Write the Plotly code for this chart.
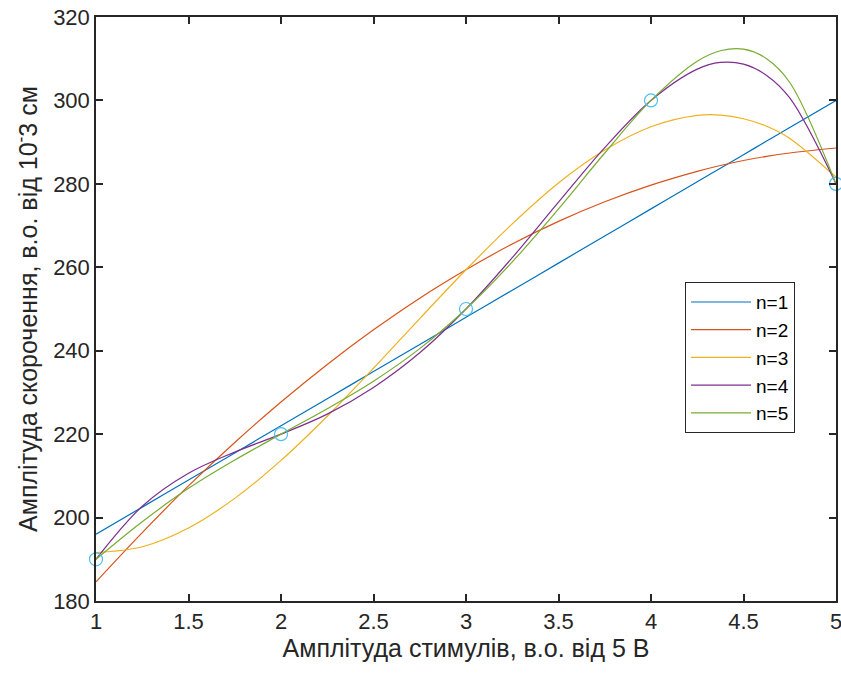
import plotly.graph_objects as go

# Measured data points
x_pts = [1, 2, 3, 4, 5]
y_pts = [190, 220, 250, 300, 280]

# Fitted curves, values on a common x grid
x_grid = [1, 1.25, 1.5, 1.75, 2, 2.25, 2.5, 2.75, 3, 3.25, 3.5, 3.75, 4, 4.25, 4.375, 4.5, 4.625, 4.75, 5]
n1 = [196, 202.5, 209, 215.5, 222, 228.5, 235, 241.5, 248, 254.5, 261, 267.5, 274, 280.5, 283.75, 287, 290.25, 293.5, 300]
n2 = [184.6, 196.4, 207.6, 218.0, 227.7, 236.7, 245.0, 252.6, 259.4, 265.6, 271.0, 275.7, 279.7, 283.0, 284.4, 285.6, 286.6, 287.4, 288.6]
n3 = [191.6, 193.0, 197.5, 204.6, 213.7, 224.3, 235.8, 247.7, 259.4, 270.4, 280.2, 288.1, 293.7, 296.4, 296.5, 295.6, 293.8, 290.9, 281.6]
n4 = [190.0, 202.7, 210.6, 215.7, 220.0, 224.8, 231.2, 239.5, 250.0, 262.3, 275.6, 288.7, 300.0, 307.5, 309.1, 308.7, 306.0, 300.6, 280.0]
n5 = [190.0, 199.0, 207.0, 213.8, 220.0, 226.1, 232.7, 240.5, 250.0, 261.3, 274.0, 287.4, 300.0, 309.4, 311.9, 312.3, 310.0, 304.3, 280.0]

series = [("n=1", n1, "#0072BD"), ("n=2", n2, "#D95319"), ("n=3", n3, "#EDB120"),
          ("n=4", n4, "#7E2F8E"), ("n=5", n5, "#77AC30")]

x_ticks = [1, 1.5, 2, 2.5, 3, 3.5, 4, 4.5, 5]
y_ticks = [180, 200, 220, 240, 260, 280, 300, 320]

FONT = "Liberation Sans, Arial, Helvetica, sans-serif"
INK = "#262626"

fig = go.Figure()
for name, ys, col in series:
    fig.add_trace(go.Scatter(x=x_grid, y=ys, mode="lines", name=name,
                             line=dict(color=col, width=1.2, shape="spline", smoothing=1.0)))
fig.add_trace(go.Scatter(x=x_pts, y=y_pts, mode="markers", showlegend=False,
                         cliponaxis=False,
                         marker=dict(symbol="circle-open", size=13, color="#4DBEEE",
                                     line=dict(width=1.2, color="#4DBEEE"))))

axis_common = dict(showgrid=False, zeroline=False, showline=True, linecolor=INK, linewidth=1.5,
                   mirror="ticks", ticks="inside", ticklen=7, tickwidth=1.5, tickcolor=INK,
                   automargin=False, ticklabeloverflow="allow",
                   tickfont=dict(family=FONT, size=22, color=INK))

fig.update_layout(
    width=841, height=673,
    margin=dict(l=96, r=5, t=17, b=72),
    paper_bgcolor="white", plot_bgcolor="white",
    font=dict(family=FONT, color=INK),
    xaxis=dict(range=[1, 5], tickvals=x_ticks, ticktext=[str(v) for v in x_ticks],
               title=dict(text="Амплітуда стимулів, в.о. від 5 В",
                          font=dict(family=FONT, size=25, color=INK), standoff=6),
               **axis_common),
    yaxis=dict(range=[180, 320], tickvals=y_ticks, ticktext=[str(v) for v in y_ticks],
               title=dict(text="Амплітуда скорочення, в.о. від 10<sup>-</sup>3 см",
                          font=dict(family=FONT, size=25, color=INK), standoff=8),
               **axis_common),
    legend=dict(x=0.796, y=0.546, xanchor="left", yanchor="top",
                bgcolor="white", bordercolor=INK, borderwidth=1,
                font=dict(family=FONT, size=19, color="black"),
                tracegroupgap=0, itemwidth=60),
    showlegend=True,
)

fig.write_html("out.html")
